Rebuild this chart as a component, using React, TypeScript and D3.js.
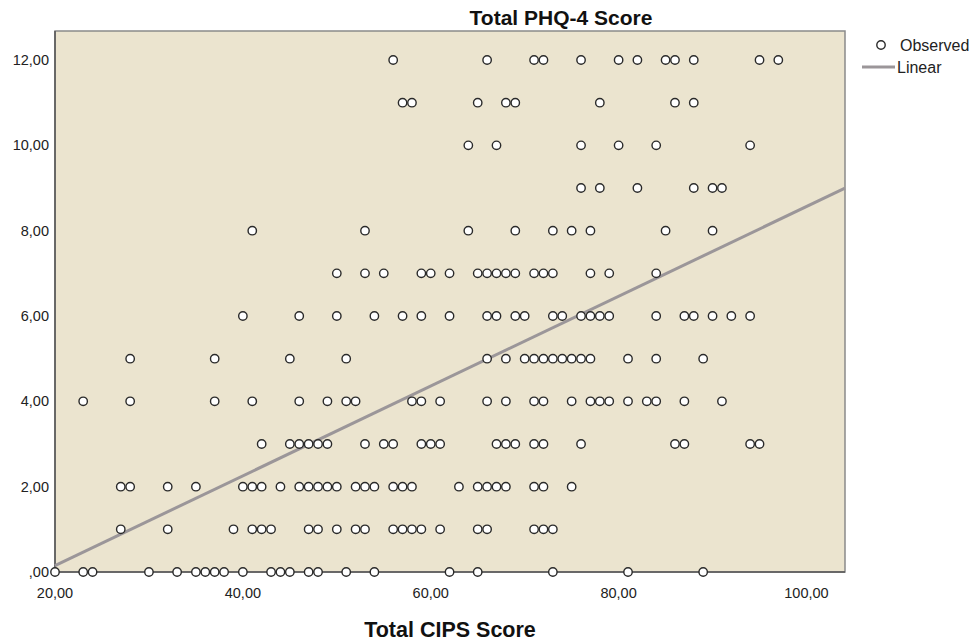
import React from 'react';
import * as d3 from 'd3';

// CIPS scores observed at each PHQ-4 level
const phq0 = [20, 23, 24, 30, 33, 35, 36, 37, 38, 40, 43, 44, 45, 47, 48, 51, 54, 62, 65, 73, 81, 89];
const phq1 = [27, 32, 39, 41, 42, 43, 47, 48, 50, 52, 53, 56, 57, 58, 59, 61, 65, 66, 71, 72, 73];
const phq2 = [27, 28, 32, 35, 40, 41, 42, 44, 46, 47, 48, 49, 50, 52, 53, 54, 56, 57, 58, 63, 65, 66, 67, 68, 71, 72, 75];
const phq3 = [42, 45, 46, 47, 48, 49, 53, 55, 56, 59, 60, 61, 67, 68, 69, 71, 72, 76, 86, 87, 94, 95];
const phq4 = [23, 28, 37, 41, 46, 49, 51, 52, 58, 59, 61, 66, 68, 71, 72, 75, 77, 78, 79, 81, 83, 84, 87, 91];
const phq5 = [28, 37, 45, 51, 66, 68, 70, 71, 72, 73, 74, 75, 76, 77, 81, 84, 89];
const phq6 = [40, 46, 50, 54, 57, 59, 62, 66, 67, 69, 70, 73, 74, 76, 77, 78, 79, 84, 87, 88, 90, 92, 94];
const phq7 = [50, 53, 55, 59, 60, 62, 65, 66, 67, 68, 69, 71, 72, 73, 77, 79, 84];
const phq8 = [41, 53, 64, 69, 73, 75, 77, 85, 90];
const phq9 = [76, 78, 82, 88, 90, 91];
const phq10 = [64, 67, 76, 80, 84, 94];
const phq11 = [57, 58, 65, 68, 69, 78, 86, 88];
const phq12 = [56, 66, 71, 72, 76, 80, 82, 85, 86, 88, 95, 97];

const byLevel = [phq0, phq1, phq2, phq3, phq4, phq5, phq6, phq7, phq8, phq9, phq10, phq11, phq12];

const xTicks = [20, 40, 60, 80, 100];
const yTicks = [0, 2, 4, 6, 8, 10, 12];

// linear fit line as drawn
const fitIntercept = -1.954;
const fitSlope = 0.1052;

const width = 976;
const height = 644;
const left = 55, right = 845, top = 31, bottom = 572;

const fmt = (v: number) => (v === 0 ? ',00' : v.toFixed(2).replace('.', ','));

export default function App() {
  const x = d3.scaleLinear().domain([20, 104.1]).range([left, right]);
  const y = d3.scaleLinear().domain([0, 12.68]).range([bottom, top]);

  const points = byLevel.flatMap((arr, lvl) => arr.map(c => ({ c, p: lvl })));
  const [x0, x1] = x.domain();
  const line = d3.line<number>().x(d => x(d)).y(d => y(fitIntercept + fitSlope * d));

  const font = 'Arial, "Liberation Sans", sans-serif';

  return (
    <svg width={width} height={height} style={{ position: 'absolute', left: 0, top: 0 }} fontFamily={font}>
      <rect x={0} y={0} width={width} height={height} fill="#ffffff" />
      <text x={561} y={25} textAnchor="middle" fontSize={21} fontWeight="bold" fill="#111">Total PHQ-4 Score</text>

      <rect x={left} y={top} width={right - left} height={bottom - top} fill="#ebe4cf" stroke="#8a8a8a" strokeWidth={1.5} />
      <line x1={left} x2={left} y1={top} y2={bottom} stroke="#555" strokeWidth={1.5} />
      <line x1={left} x2={right} y1={bottom} y2={bottom} stroke="#555" strokeWidth={1.5} />

      <path d={line([x0, x1]) || ''} fill="none" stroke="#9b9699" strokeWidth={3} />

      {points.map((d, i) => (
        <circle key={i} cx={x(d.c)} cy={y(d.p)} r={4.2} fill="#ffffff" stroke="#2a2a2a" strokeWidth={1.4} />
      ))}

      {xTicks.map(t => (
        <text key={'x' + t} x={x(t)} y={598} textAnchor="middle" fontSize={14.5} fill="#222">{fmt(t)}</text>
      ))}
      {yTicks.map(t => (
        <text key={'y' + t} x={49} y={y(t) + 5} textAnchor="end" fontSize={14.5} fill="#222">{fmt(t)}</text>
      ))}

      <text x={450} y={637} textAnchor="middle" fontSize={21.5} fontWeight="bold" fill="#111">Total CIPS Score</text>

      <circle cx={881} cy={45} r={4.2} fill="#ffffff" stroke="#2a2a2a" strokeWidth={1.4} />
      <text x={900} y={51} fontSize={16} fill="#222">Observed</text>
      <line x1={862} x2={895} y1={67} y2={67} stroke="#9b9699" strokeWidth={3} />
      <text x={897} y={73} fontSize={16} fill="#222">Linear</text>
    </svg>
  );
}
